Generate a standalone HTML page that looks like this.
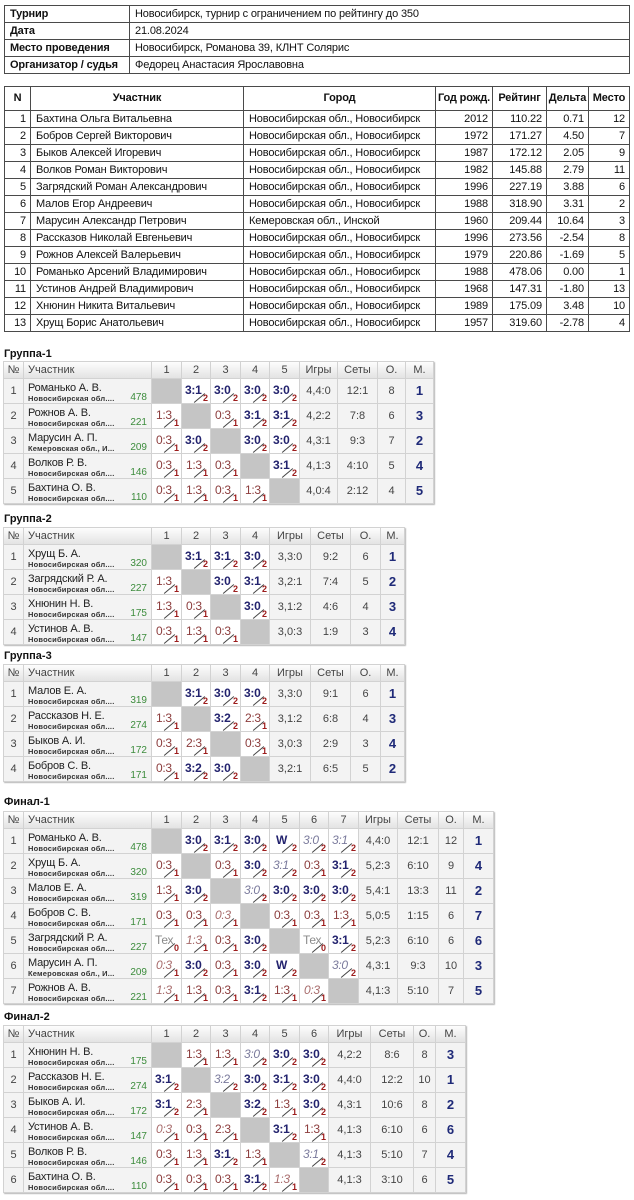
<!DOCTYPE html>
<html><head><meta charset="utf-8">
<style>
*{margin:0;padding:0;box-sizing:border-box}
body{width:634px;height:1200px;background:#fff;position:relative;overflow:hidden;font-family:"Liberation Sans",Arial,sans-serif;}
.tt{position:absolute;left:4px;display:grid;gap:1px;padding:1px;background:#4a4a4a;}
.tt>div{background:#fff;font-size:11px;color:#111;line-height:16px;padding:0 5px;white-space:nowrap;overflow:hidden;letter-spacing:-0.15px}
.tt>.b{font-weight:bold}
.tt>.hd{font-weight:bold;text-align:center;line-height:23px;padding:0}
.tt>.r{text-align:right;padding:0 4px 0 0}
.t{position:absolute;left:4px;font-size:11px;font-weight:bold;line-height:12px;color:#111}
.g{position:absolute;left:3px;display:grid;gap:1px;padding:1px;background:#d2d2d2;grid-template-rows:16px;grid-auto-rows:24px;box-shadow:1px 1px 1px #b8b8b8}
.g>div{background:#f3f3f3;position:relative;overflow:hidden;font-size:11px;color:#444;text-align:center;line-height:24px;white-space:nowrap}
.g>.h{background:linear-gradient(#fdfdfd,#e3e3e3);line-height:16px;color:#444}
.g>.hl{text-align:left;padding-left:4px}
.g>.p{text-align:left}
.p .nm{position:absolute;left:4px;top:3px;font-size:11px;line-height:12px;color:#222;letter-spacing:-0.2px}
.p .rg{position:absolute;left:4px;top:15px;font-size:7.5px;font-weight:bold;line-height:9px;color:#333;letter-spacing:0.2px}
.p .rt{position:absolute;right:4px;top:14px;font-size:10px;line-height:10px;color:#3c8c3c}
.g>.x{background:#c5c5c5}
.g>.s{background:#fff}
.s b{position:absolute;left:3px;top:5px;font-size:12px;line-height:12px;font-weight:bold;color:#23236e;letter-spacing:-0.3px}
.s.l b{font-weight:normal;color:#8c3d3d;left:4px}
.s.wi b{font-weight:normal;font-style:italic;color:#7a7a9c}
.s.li b{font-weight:normal;font-style:italic;color:#a86c6c;left:4px}
.s.tx b{font-weight:normal;color:#8a8a8a;left:3px}
.s i{position:absolute;right:2px;bottom:0;font-size:9px;line-height:9px;font-weight:bold;font-style:normal;color:#9c1c1c}
.s::after{content:"";position:absolute;left:17px;top:12px;width:1px;height:14px;background:#444;transform:rotate(50deg)}
.g>.m{font-weight:bold;font-size:13px;color:#1f2a78}
</style></head><body>

<div class="tt" style="top:5px;grid-template-columns:124px 499px;grid-auto-rows:16px;">
<div class="b">Турнир</div><div>Новосибирск, турнир с ограничением по рейтингу до 350</div>
<div class="b">Дата</div><div>21.08.2024</div>
<div class="b">Место проведения</div><div>Новосибирск, Романова 39, КЛНТ Солярис</div>
<div class="b">Организатор / судья</div><div>Федорец Анастасия Ярославовна</div>
</div>

<div class="tt" style="top:86px;grid-template-columns:25px 212px 191px 56px 53px 41px 40px;grid-template-rows:23px;grid-auto-rows:16px;">
<div class="hd">N</div><div class="hd">Участник</div><div class="hd">Город</div><div class="hd">Год рожд.</div><div class="hd">Рейтинг</div><div class="hd">Дельта</div><div class="hd">Место</div>
<div class="r">1</div><div>Бахтина Ольга Витальевна</div><div>Новосибирская обл., Новосибирск</div><div class="r">2012</div><div class="r">110.22</div><div class="r">0.71</div><div class="r">12</div>
<div class="r">2</div><div>Бобров Сергей Викторович</div><div>Новосибирская обл., Новосибирск</div><div class="r">1972</div><div class="r">171.27</div><div class="r">4.50</div><div class="r">7</div>
<div class="r">3</div><div>Быков Алексей Игоревич</div><div>Новосибирская обл., Новосибирск</div><div class="r">1987</div><div class="r">172.12</div><div class="r">2.05</div><div class="r">9</div>
<div class="r">4</div><div>Волков Роман Викторович</div><div>Новосибирская обл., Новосибирск</div><div class="r">1982</div><div class="r">145.88</div><div class="r">2.79</div><div class="r">11</div>
<div class="r">5</div><div>Загрядский Роман Александрович</div><div>Новосибирская обл., Новосибирск</div><div class="r">1996</div><div class="r">227.19</div><div class="r">3.88</div><div class="r">6</div>
<div class="r">6</div><div>Малов Егор Андреевич</div><div>Новосибирская обл., Новосибирск</div><div class="r">1988</div><div class="r">318.90</div><div class="r">3.31</div><div class="r">2</div>
<div class="r">7</div><div>Марусин Александр Петрович</div><div>Кемеровская обл., Инской</div><div class="r">1960</div><div class="r">209.44</div><div class="r">10.64</div><div class="r">3</div>
<div class="r">8</div><div>Рассказов Николай Евгеньевич</div><div>Новосибирская обл., Новосибирск</div><div class="r">1996</div><div class="r">273.56</div><div class="r">-2.54</div><div class="r">8</div>
<div class="r">9</div><div>Рожнов Алексей Валерьевич</div><div>Новосибирская обл., Новосибирск</div><div class="r">1979</div><div class="r">220.86</div><div class="r">-1.69</div><div class="r">5</div>
<div class="r">10</div><div>Романько Арсений Владимирович</div><div>Новосибирская обл., Новосибирск</div><div class="r">1988</div><div class="r">478.06</div><div class="r">0.00</div><div class="r">1</div>
<div class="r">11</div><div>Устинов Андрей Владимирович</div><div>Новосибирская обл., Новосибирск</div><div class="r">1968</div><div class="r">147.31</div><div class="r">-1.80</div><div class="r">13</div>
<div class="r">12</div><div>Хнюнин Никита Витальевич</div><div>Новосибирская обл., Новосибирск</div><div class="r">1989</div><div class="r">175.09</div><div class="r">3.48</div><div class="r">10</div>
<div class="r">13</div><div>Хрущ Борис Анатольевич</div><div>Новосибирская обл., Новосибирск</div><div class="r">1957</div><div class="r">319.60</div><div class="r">-2.78</div><div class="r">4</div>
</div>

<!-- Группа-1 -->
<div class="t" style="top:348px">Группа-1</div>
<div class="g" style="top:361px;grid-template-columns:19px 127px 29px 28px 29px 28px 29px 37px 39px 27px 27px;">
<div class="h">№</div><div class="h hl">Участник</div><div class="h">1</div><div class="h">2</div><div class="h">3</div><div class="h">4</div><div class="h">5</div><div class="h">Игры</div><div class="h">Сеты</div><div class="h">О.</div><div class="h">М.</div>
<div>1</div><div class="p"><span class="nm">Романько А. В.</span><span class="rg">Новосибирская обл....</span><span class="rt">478</span></div><div class="x"></div><div class="s"><b>3:1</b><i>2</i></div><div class="s"><b>3:0</b><i>2</i></div><div class="s"><b>3:0</b><i>2</i></div><div class="s"><b>3:0</b><i>2</i></div><div>4,4:0</div><div>12:1</div><div>8</div><div class="m">1</div>
<div>2</div><div class="p"><span class="nm">Рожнов А. В.</span><span class="rg">Новосибирская обл....</span><span class="rt">221</span></div><div class="s l"><b>1:3</b><i>1</i></div><div class="x"></div><div class="s l"><b>0:3</b><i>1</i></div><div class="s"><b>3:1</b><i>2</i></div><div class="s"><b>3:1</b><i>2</i></div><div>4,2:2</div><div>7:8</div><div>6</div><div class="m">3</div>
<div>3</div><div class="p"><span class="nm">Марусин А. П.</span><span class="rg">Кемеровская обл., И...</span><span class="rt">209</span></div><div class="s l"><b>0:3</b><i>1</i></div><div class="s"><b>3:0</b><i>2</i></div><div class="x"></div><div class="s"><b>3:0</b><i>2</i></div><div class="s"><b>3:0</b><i>2</i></div><div>4,3:1</div><div>9:3</div><div>7</div><div class="m">2</div>
<div>4</div><div class="p"><span class="nm">Волков Р. В.</span><span class="rg">Новосибирская обл....</span><span class="rt">146</span></div><div class="s l"><b>0:3</b><i>1</i></div><div class="s l"><b>1:3</b><i>1</i></div><div class="s l"><b>0:3</b><i>1</i></div><div class="x"></div><div class="s"><b>3:1</b><i>2</i></div><div>4,1:3</div><div>4:10</div><div>5</div><div class="m">4</div>
<div>5</div><div class="p"><span class="nm">Бахтина О. В.</span><span class="rg">Новосибирская обл....</span><span class="rt">110</span></div><div class="s l"><b>0:3</b><i>1</i></div><div class="s l"><b>1:3</b><i>1</i></div><div class="s l"><b>0:3</b><i>1</i></div><div class="s l"><b>1:3</b><i>1</i></div><div class="x"></div><div>4,0:4</div><div>2:12</div><div>4</div><div class="m">5</div>
</div>

<!-- Группа-2 -->
<div class="t" style="top:513px">Группа-2</div>
<div class="g" style="top:527px;grid-template-columns:19px 127px 29px 28px 29px 28px 40px 39px 29px 23px;">
<div class="h">№</div><div class="h hl">Участник</div><div class="h">1</div><div class="h">2</div><div class="h">3</div><div class="h">4</div><div class="h">Игры</div><div class="h">Сеты</div><div class="h">О.</div><div class="h">М.</div>
<div>1</div><div class="p"><span class="nm">Хрущ Б. А.</span><span class="rg">Новосибирская обл....</span><span class="rt">320</span></div><div class="x"></div><div class="s"><b>3:1</b><i>2</i></div><div class="s"><b>3:1</b><i>2</i></div><div class="s"><b>3:0</b><i>2</i></div><div>3,3:0</div><div>9:2</div><div>6</div><div class="m">1</div>
<div>2</div><div class="p"><span class="nm">Загрядский Р. А.</span><span class="rg">Новосибирская обл....</span><span class="rt">227</span></div><div class="s l"><b>1:3</b><i>1</i></div><div class="x"></div><div class="s"><b>3:0</b><i>2</i></div><div class="s"><b>3:1</b><i>2</i></div><div>3,2:1</div><div>7:4</div><div>5</div><div class="m">2</div>
<div>3</div><div class="p"><span class="nm">Хнюнин Н. В.</span><span class="rg">Новосибирская обл....</span><span class="rt">175</span></div><div class="s l"><b>1:3</b><i>1</i></div><div class="s l"><b>0:3</b><i>1</i></div><div class="x"></div><div class="s"><b>3:0</b><i>2</i></div><div>3,1:2</div><div>4:6</div><div>4</div><div class="m">3</div>
<div>4</div><div class="p"><span class="nm">Устинов А. В.</span><span class="rg">Новосибирская обл....</span><span class="rt">147</span></div><div class="s l"><b>0:3</b><i>1</i></div><div class="s l"><b>1:3</b><i>1</i></div><div class="s l"><b>0:3</b><i>1</i></div><div class="x"></div><div>3,0:3</div><div>1:9</div><div>3</div><div class="m">4</div>
</div>

<!-- Группа-3 -->
<div class="t" style="top:650px">Группа-3</div>
<div class="g" style="top:664px;grid-template-columns:19px 127px 29px 28px 29px 28px 40px 39px 29px 23px;">
<div class="h">№</div><div class="h hl">Участник</div><div class="h">1</div><div class="h">2</div><div class="h">3</div><div class="h">4</div><div class="h">Игры</div><div class="h">Сеты</div><div class="h">О.</div><div class="h">М.</div>
<div>1</div><div class="p"><span class="nm">Малов Е. А.</span><span class="rg">Новосибирская обл....</span><span class="rt">319</span></div><div class="x"></div><div class="s"><b>3:1</b><i>2</i></div><div class="s"><b>3:0</b><i>2</i></div><div class="s"><b>3:0</b><i>2</i></div><div>3,3:0</div><div>9:1</div><div>6</div><div class="m">1</div>
<div>2</div><div class="p"><span class="nm">Рассказов Н. Е.</span><span class="rg">Новосибирская обл....</span><span class="rt">274</span></div><div class="s l"><b>1:3</b><i>1</i></div><div class="x"></div><div class="s"><b>3:2</b><i>2</i></div><div class="s l"><b>2:3</b><i>1</i></div><div>3,1:2</div><div>6:8</div><div>4</div><div class="m">3</div>
<div>3</div><div class="p"><span class="nm">Быков А. И.</span><span class="rg">Новосибирская обл....</span><span class="rt">172</span></div><div class="s l"><b>0:3</b><i>1</i></div><div class="s l"><b>2:3</b><i>1</i></div><div class="x"></div><div class="s l"><b>0:3</b><i>1</i></div><div>3,0:3</div><div>2:9</div><div>3</div><div class="m">4</div>
<div>4</div><div class="p"><span class="nm">Бобров С. В.</span><span class="rg">Новосибирская обл....</span><span class="rt">171</span></div><div class="s l"><b>0:3</b><i>1</i></div><div class="s"><b>3:2</b><i>2</i></div><div class="s"><b>3:0</b><i>2</i></div><div class="x"></div><div>3,2:1</div><div>6:5</div><div>5</div><div class="m">2</div>
</div>

<!-- Финал-1 -->
<div class="t" style="top:796px">Финал-1</div>
<div class="g" style="top:811px;grid-template-columns:19px 127px 29px 28px 29px 28px 29px 28px 29px 38px 40px 24px 29px;">
<div class="h">№</div><div class="h hl">Участник</div><div class="h">1</div><div class="h">2</div><div class="h">3</div><div class="h">4</div><div class="h">5</div><div class="h">6</div><div class="h">7</div><div class="h">Игры</div><div class="h">Сеты</div><div class="h">О.</div><div class="h">М.</div>
<div>1</div><div class="p"><span class="nm">Романько А. В.</span><span class="rg">Новосибирская обл....</span><span class="rt">478</span></div><div class="x"></div><div class="s"><b>3:0</b><i>2</i></div><div class="s"><b>3:1</b><i>2</i></div><div class="s"><b>3:0</b><i>2</i></div><div class="s"><b>&nbsp;W</b><i>2</i></div><div class="s wi"><b>3:0</b><i>2</i></div><div class="s wi"><b>3:1</b><i>2</i></div><div>4,4:0</div><div>12:1</div><div>12</div><div class="m">1</div>
<div>2</div><div class="p"><span class="nm">Хрущ Б. А.</span><span class="rg">Новосибирская обл....</span><span class="rt">320</span></div><div class="s l"><b>0:3</b><i>1</i></div><div class="x"></div><div class="s l"><b>0:3</b><i>1</i></div><div class="s"><b>3:0</b><i>2</i></div><div class="s wi"><b>3:1</b><i>2</i></div><div class="s l"><b>0:3</b><i>1</i></div><div class="s"><b>3:1</b><i>2</i></div><div>5,2:3</div><div>6:10</div><div>9</div><div class="m">4</div>
<div>3</div><div class="p"><span class="nm">Малов Е. А.</span><span class="rg">Новосибирская обл....</span><span class="rt">319</span></div><div class="s l"><b>1:3</b><i>1</i></div><div class="s"><b>3:0</b><i>2</i></div><div class="x"></div><div class="s wi"><b>3:0</b><i>2</i></div><div class="s"><b>3:0</b><i>2</i></div><div class="s"><b>3:0</b><i>2</i></div><div class="s"><b>3:0</b><i>2</i></div><div>5,4:1</div><div>13:3</div><div>11</div><div class="m">2</div>
<div>4</div><div class="p"><span class="nm">Бобров С. В.</span><span class="rg">Новосибирская обл....</span><span class="rt">171</span></div><div class="s l"><b>0:3</b><i>1</i></div><div class="s l"><b>0:3</b><i>1</i></div><div class="s li"><b>0:3</b><i>1</i></div><div class="x"></div><div class="s l"><b>0:3</b><i>1</i></div><div class="s l"><b>0:3</b><i>1</i></div><div class="s l"><b>1:3</b><i>1</i></div><div>5,0:5</div><div>1:15</div><div>6</div><div class="m">7</div>
<div>5</div><div class="p"><span class="nm">Загрядский Р. А.</span><span class="rg">Новосибирская обл....</span><span class="rt">227</span></div><div class="s tx"><b>Тех</b><i>0</i></div><div class="s li"><b>1:3</b><i>1</i></div><div class="s l"><b>0:3</b><i>1</i></div><div class="s"><b>3:0</b><i>2</i></div><div class="x"></div><div class="s tx"><b>Тех</b><i>0</i></div><div class="s"><b>3:1</b><i>2</i></div><div>5,2:3</div><div>6:10</div><div>6</div><div class="m">6</div>
<div>6</div><div class="p"><span class="nm">Марусин А. П.</span><span class="rg">Кемеровская обл., И...</span><span class="rt">209</span></div><div class="s li"><b>0:3</b><i>1</i></div><div class="s"><b>3:0</b><i>2</i></div><div class="s l"><b>0:3</b><i>1</i></div><div class="s"><b>3:0</b><i>2</i></div><div class="s"><b>&nbsp;W</b><i>2</i></div><div class="x"></div><div class="s wi"><b>3:0</b><i>2</i></div><div>4,3:1</div><div>9:3</div><div>10</div><div class="m">3</div>
<div>7</div><div class="p"><span class="nm">Рожнов А. В.</span><span class="rg">Новосибирская обл....</span><span class="rt">221</span></div><div class="s li"><b>1:3</b><i>1</i></div><div class="s l"><b>1:3</b><i>1</i></div><div class="s l"><b>0:3</b><i>1</i></div><div class="s"><b>3:1</b><i>2</i></div><div class="s l"><b>1:3</b><i>1</i></div><div class="s li"><b>0:3</b><i>1</i></div><div class="x"></div><div>4,1:3</div><div>5:10</div><div>7</div><div class="m">5</div>
</div>

<!-- Финал-2 -->
<div class="t" style="top:1011px">Финал-2</div>
<div class="g" style="top:1025px;grid-template-columns:19px 127px 29px 28px 29px 28px 29px 28px 41px 42px 21px 29px;">
<div class="h">№</div><div class="h hl">Участник</div><div class="h">1</div><div class="h">2</div><div class="h">3</div><div class="h">4</div><div class="h">5</div><div class="h">6</div><div class="h">Игры</div><div class="h">Сеты</div><div class="h">О.</div><div class="h">М.</div>
<div>1</div><div class="p"><span class="nm">Хнюнин Н. В.</span><span class="rg">Новосибирская обл....</span><span class="rt">175</span></div><div class="x"></div><div class="s l"><b>1:3</b><i>1</i></div><div class="s l"><b>1:3</b><i>1</i></div><div class="s wi"><b>3:0</b><i>2</i></div><div class="s"><b>3:0</b><i>2</i></div><div class="s"><b>3:0</b><i>2</i></div><div>4,2:2</div><div>8:6</div><div>8</div><div class="m">3</div>
<div>2</div><div class="p"><span class="nm">Рассказов Н. Е.</span><span class="rg">Новосибирская обл....</span><span class="rt">274</span></div><div class="s"><b>3:1</b><i>2</i></div><div class="x"></div><div class="s wi"><b>3:2</b><i>2</i></div><div class="s"><b>3:0</b><i>2</i></div><div class="s"><b>3:1</b><i>2</i></div><div class="s"><b>3:0</b><i>2</i></div><div>4,4:0</div><div>12:2</div><div>10</div><div class="m">1</div>
<div>3</div><div class="p"><span class="nm">Быков А. И.</span><span class="rg">Новосибирская обл....</span><span class="rt">172</span></div><div class="s"><b>3:1</b><i>2</i></div><div class="s l"><b>2:3</b><i>1</i></div><div class="x"></div><div class="s"><b>3:2</b><i>2</i></div><div class="s l"><b>1:3</b><i>1</i></div><div class="s"><b>3:0</b><i>2</i></div><div>4,3:1</div><div>10:6</div><div>8</div><div class="m">2</div>
<div>4</div><div class="p"><span class="nm">Устинов А. В.</span><span class="rg">Новосибирская обл....</span><span class="rt">147</span></div><div class="s li"><b>0:3</b><i>1</i></div><div class="s l"><b>0:3</b><i>1</i></div><div class="s l"><b>2:3</b><i>1</i></div><div class="x"></div><div class="s"><b>3:1</b><i>2</i></div><div class="s l"><b>1:3</b><i>1</i></div><div>4,1:3</div><div>6:10</div><div>6</div><div class="m">6</div>
<div>5</div><div class="p"><span class="nm">Волков Р. В.</span><span class="rg">Новосибирская обл....</span><span class="rt">146</span></div><div class="s l"><b>0:3</b><i>1</i></div><div class="s l"><b>1:3</b><i>1</i></div><div class="s"><b>3:1</b><i>2</i></div><div class="s l"><b>1:3</b><i>1</i></div><div class="x"></div><div class="s wi"><b>3:1</b><i>2</i></div><div>4,1:3</div><div>5:10</div><div>7</div><div class="m">4</div>
<div>6</div><div class="p"><span class="nm">Бахтина О. В.</span><span class="rg">Новосибирская обл....</span><span class="rt">110</span></div><div class="s l"><b>0:3</b><i>1</i></div><div class="s l"><b>0:3</b><i>1</i></div><div class="s l"><b>0:3</b><i>1</i></div><div class="s"><b>3:1</b><i>2</i></div><div class="s li"><b>1:3</b><i>1</i></div><div class="x"></div><div>4,1:3</div><div>3:10</div><div>6</div><div class="m">5</div>
</div>

</body></html>
